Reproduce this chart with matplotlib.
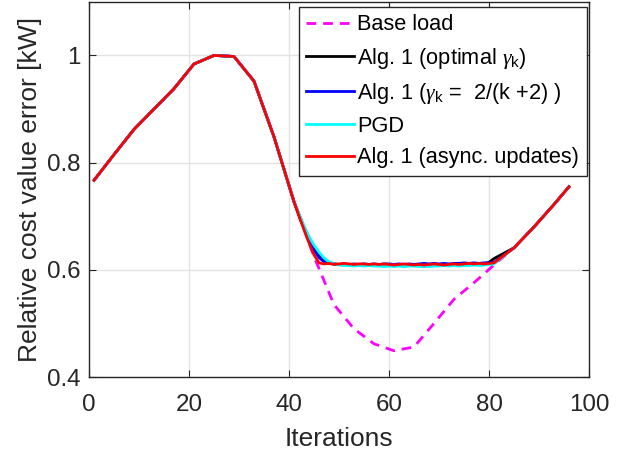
import matplotlib
matplotlib.use("Agg")
import matplotlib.pyplot as plt

plt.rcParams['font.family'] = ['Liberation Sans', 'DejaVu Sans']
plt.rcParams['mathtext.fontset'] = 'custom'
plt.rcParams['mathtext.rm'] = 'Liberation Sans'
plt.rcParams['mathtext.it'] = 'Liberation Serif:italic'

# ---- data ----
x_base = [1, 5, 9, 13, 17, 21, 25, 29, 33, 37, 41, 45, 49, 53, 57, 61, 65, 69, 73, 77, 81, 85, 89, 93, 96]
base_load = [0.767, 0.815, 0.862, 0.900, 0.938, 0.984, 1.000, 0.998, 0.952, 0.848, 0.727, 0.625,
             0.535, 0.490, 0.462, 0.449, 0.456, 0.500, 0.545, 0.576, 0.609, 0.641, 0.680, 0.722, 0.755]

x_head = [1, 5, 9, 13, 17, 21, 25, 29, 33, 37, 41]
head = [0.767, 0.815, 0.862, 0.900, 0.938, 0.984, 1.000, 0.998, 0.952, 0.848, 0.727]

x_mid = list(range(42, 82))
opt_mid = [0.703, 0.680, 0.660, 0.643, 0.630, 0.620, 0.614, 0.611, 0.610, 0.609, 0.610, 0.609,
           0.608, 0.609, 0.610, 0.609, 0.608, 0.609, 0.608, 0.609, 0.608, 0.607, 0.608, 0.609,
           0.608, 0.607, 0.608, 0.609, 0.608, 0.609, 0.608, 0.609, 0.610, 0.609, 0.610, 0.610,
           0.611, 0.611, 0.614, 0.621]
dim_mid = [0.702, 0.678, 0.656, 0.637, 0.623, 0.615, 0.612, 0.611, 0.610, 0.611, 0.610, 0.611,
           0.610, 0.611, 0.610, 0.611, 0.610, 0.611, 0.611, 0.610, 0.611, 0.610, 0.611, 0.610,
           0.611, 0.612, 0.611, 0.612, 0.611, 0.612, 0.611, 0.612, 0.612, 0.613, 0.612, 0.613,
           0.612, 0.613, 0.613, 0.614]
pgd_mid = [0.704, 0.682, 0.662, 0.646, 0.633, 0.622, 0.615, 0.611, 0.609, 0.608, 0.608, 0.607,
           0.608, 0.607, 0.608, 0.607, 0.607, 0.606, 0.607, 0.606, 0.607, 0.606, 0.607, 0.607,
           0.606, 0.607, 0.606, 0.607, 0.607, 0.608, 0.607, 0.608, 0.607, 0.608, 0.608, 0.609,
           0.608, 0.609, 0.610, 0.611]
async_mid = [0.700, 0.675, 0.650, 0.628, 0.613, 0.611, 0.612, 0.610, 0.611, 0.612, 0.611, 0.610,
             0.611, 0.611, 0.610, 0.611, 0.610, 0.611, 0.610, 0.609, 0.610, 0.611, 0.610, 0.609,
             0.610, 0.609, 0.610, 0.611, 0.610, 0.609, 0.610, 0.611, 0.610, 0.611, 0.612, 0.611,
             0.612, 0.611, 0.612, 0.613]

x_tail = [85, 89, 93, 96]
tail = [0.641, 0.680, 0.722, 0.755]

labels = ['Base load',
          r'Alg. 1 (optimal $\gamma_{\mathrm{k}}$)',
          r'Alg. 1 ($\gamma_{\mathrm{k}}$ =  2/(k +2) )',
          'PGD',
          'Alg. 1 (async. updates)']
colors = ['#ff00ff', '#000000', '#0000ff', '#00ffff', '#ff0000']

fig = plt.figure(figsize=(6.29, 4.55), dpi=100)
ax = fig.add_axes([0.1415, 0.1714, 0.7949, 0.8246])

x_alg = x_head + x_mid + x_tail
ax.plot(x_base, base_load, color=colors[0], lw=2, ls=(0, (3.5, 2.5)), label=labels[0])
for mid, c, lab in [(opt_mid, colors[1], labels[1]), (dim_mid, colors[2], labels[2]),
                    (pgd_mid, colors[3], labels[3]), (async_mid, colors[4], labels[4])]:
    ax.plot(x_alg, head + mid + tail, color=c, lw=2, label=lab)

ax.set_xlim(0, 100)
ax.set_ylim(0.4, 1.1)
ax.set_xticks([0, 20, 40, 60, 80, 100])
ax.set_yticks([0.4, 0.6, 0.8, 1.0])
ax.set_yticklabels(['0.4', '0.6', '0.8', '1'])
ax.grid(True, color='#e3e3e3', lw=1)
ax.set_axisbelow(True)
ax.tick_params(direction='in', top=True, right=True, labelsize=17.4, colors='#262626',
               length=5)
ax.tick_params(axis='x', pad=12)
ax.tick_params(axis='y', pad=6)
for s in ax.spines.values():
    s.set_color('#262626')
    s.set_linewidth(1)
ax.set_xlabel('Iterations', fontsize=19, color='#262626', labelpad=8)
ax.set_ylabel('Relative cost value error [kW]', fontsize=19, color='#262626', labelpad=4)

leg = ax.legend(loc='upper right', bbox_to_anchor=(0.996, 0.987), fontsize=15.7,
                fancybox=False, edgecolor='#262626', framealpha=1,
                handlelength=2.2, handletextpad=0.15, borderpad=0.35,
                labelspacing=0.47, borderaxespad=0)
leg.get_frame().set_linewidth(1)

fig.savefig('out.png', dpi=100)
